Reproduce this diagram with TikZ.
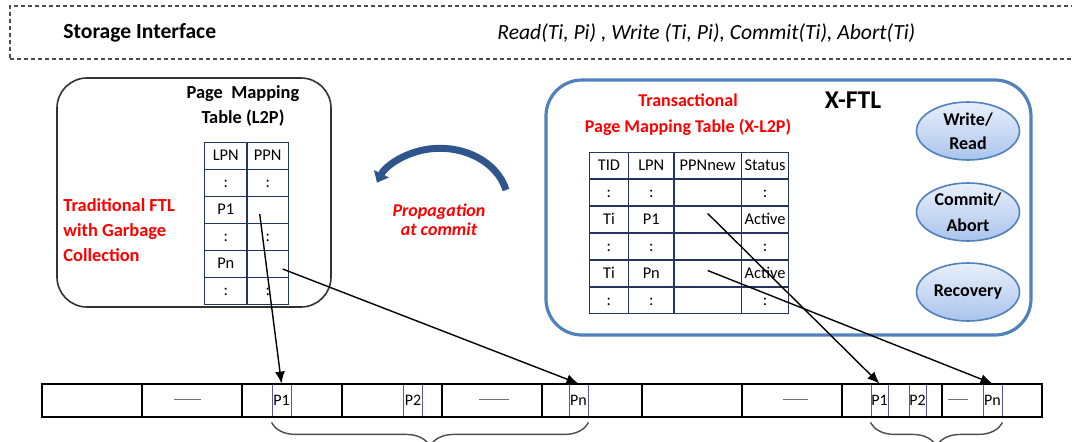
\documentclass[tikz,border=0pt]{standalone}
\usepackage{fontspec}
\setmainfont{Carlito}
\usetikzlibrary{matrix,shapes.geometric,arrows.meta,decorations.pathreplacing}
\definecolor{xblue}{RGB}{79,129,189}
\definecolor{arcblue}{RGB}{46,86,140}
\definecolor{gridblue}{RGB}{38,52,98}
\definecolor{pblue}{RGB}{86,86,170}
\definecolor{optop}{RGB}{232,239,251}
\definecolor{opbottom}{RGB}{170,196,236}

\begin{document}
\begin{tikzpicture}[x=0.5pt, y=-0.5pt,
    redtxt/.style={text=red, inner sep=0pt, align=center, font=\bfseries\fontsize{9.2}{12.5}\selectfont},
    maptable/.style={matrix of nodes, nodes in empty cells,
        row sep=-\pgflinewidth, column sep=-\pgflinewidth,
        nodes={draw=gridblue, line width=0.6pt, anchor=center, minimum height=13.3pt, inner sep=0pt,
               text height=6pt, text depth=1.5pt, font=\fontsize{8.2}{9}\selectfont}},
    opnode/.style={ellipse, draw=xblue, line width=0.8pt, top color=optop, bottom color=opbottom,
        minimum width=51.5pt, minimum height=29pt, inner sep=0pt, align=center,
        font=\bfseries\fontsize{9}{12}\selectfont},
    blockbox/.style={draw, line width=0.8pt, minimum width=50pt, minimum height=16.5pt},
    pagebox/.style={draw=pblue, line width=0.4pt, minimum width=9.5pt, minimum height=16.5pt,
        inner sep=0pt, font=\fontsize{8}{9}\selectfont},
    gapmark/.style={text=black!55, inner sep=0pt},
    maparrow/.style={-{Latex[length=6pt,width=5pt]}, line width=0.7pt},
    spanbrace/.style={decorate, decoration={brace, mirror, amplitude=12pt}, draw=black!70, line width=0.7pt}]

\useasboundingbox (0,0) rectangle (1072,441);

% storage interface
\node[draw=black!70, dash pattern=on 2pt off 1.5pt, line width=0.6pt,
      minimum width=540pt, minimum height=26.5pt] (iface) at (550,32.5) {};
\node[anchor=west, inner sep=0pt, font=\bfseries\fontsize{10.8}{13}\selectfont] (ifacename) at (63,33) {Storage Interface};
\node[anchor=west, inner sep=0pt, font=\itshape\fontsize{10.8}{13}\selectfont] (ifaceops) at (497,33) {Read(Ti, Pi) , Write (Ti, Pi), Commit(Ti), Abort(Ti)};

% traditional FTL
\node[draw=black!80, line width=0.8pt, rounded corners=15pt, minimum width=137pt, minimum height=114.5pt] (ftl) at (194,192.5) {};
\node[inner sep=0pt, align=center, font=\bfseries\fontsize{9.2}{12.5}\selectfont] (l2ptitle) at (243,105.5) {Page\ \ Mapping\\Table (L2P)};
\matrix (l2p) [maptable,
    column 1/.style={nodes={minimum width=21pt}},
    column 2/.style={nodes={minimum width=20.5pt}}] at (246.5,223.5) {
LPN & PPN \\
:   & :   \\
P1  &     \\
:   & :   \\
Pn  &     \\
:   & :   \\
};
\node[redtxt, anchor=west, align=left] (ftlname) at (63,230) {Traditional FTL\\with Garbage\\Collection};

% propagation
\draw[arcblue, line width=3.5pt, -{Triangle[length=5pt,width=8pt]}] (506,190) arc[start angle=-14, end angle=-158, x radius=68, y radius=55];
\node[inner sep=0pt, align=center, text=red, font=\bfseries\itshape\fontsize{9}{9.5}\selectfont] (propag) at (439,220) {Propagation\\at commit};

% X-FTL
\node[draw=xblue, line width=1.6pt, rounded corners=18pt, minimum width=242.5pt, minimum height=127.5pt] (xftl) at (788.5,207.5) {};
\node[inner sep=0pt, font=\bfseries\fontsize{12.8}{14}\selectfont] (xftlname) at (853,100) {X-FTL};
\node[redtxt, font=\bfseries\fontsize{9}{13}\selectfont] (x2ptitle) at (688,115) {Transactional\\Page Mapping Table (X-L2P)};
\matrix (x2p) [maptable,
    column 1/.style={nodes={minimum width=19.5pt}},
    column 2/.style={nodes={minimum width=22.5pt}},
    column 3/.style={nodes={minimum width=33.5pt}},
    column 4/.style={nodes={minimum width=23.5pt}}] at (689,233) {
TID & LPN & PPNnew & Status \\
:   & :   &        & :      \\
Ti  & P1  &        & Active \\
:   & :   &        & :      \\
Ti  & Pn  &        & Active \\
:   & :   &        & :      \\
};
\node[opnode] (wr) at (968,131) {Write/\\Read};
\node[opnode, font=\bfseries\fontsize{9}{13}\selectfont] (ca) at (968,212) {Commit/\\Abort};
\node[opnode] (rec) at (968,292) {Recovery};

% flash pages
\node[pagebox] (p1a) at (281.5,400.5) {P1};
\node[pagebox] (p2a) at (413,400.5) {P2};
\node[pagebox] (pna) at (578.5,400.5) {Pn};
\node[pagebox, minimum width=8.5pt] (p1b) at (879.5,400.5) {P1};
\node[pagebox, minimum width=8.5pt] (p2b) at (917.5,400.5) {P2};
\node[pagebox] (pnb) at (992.5,400.5) {Pn};
\foreach \i in {1,...,10}
    \node[blockbox] (blk\i) at (-8+100*\i,400.5) {};
\foreach \x/\w/\n in {187/13.5/a,494/15/b,795/12.5/c,958/10/d}
    \node[gapmark] (gap\n) at (\x,399) {\rule{\w pt}{0.5pt}};

\draw[maparrow] ([xshift=-4pt,yshift=-2pt]l2p-3-2.center) -- (p1a.north);
\draw[maparrow] ([xshift=7.5pt,yshift=-2.5pt]l2p-5-2.center) -- (pna.north);
\draw[maparrow] ([yshift=3pt]x2p-3-3.center) -- (p1b.north);
\draw[maparrow] ([yshift=1.5pt]x2p-5-3.center) -- (pnb.north);

\draw[spanbrace] ([yshift=-2.5pt]p1a.south west) -- ([yshift=-2.5pt]pna.south east);
\draw[spanbrace] ([yshift=-2.5pt]p1b.south west) -- ([yshift=-2.5pt]pnb.south east);
\end{tikzpicture}
\end{document}
